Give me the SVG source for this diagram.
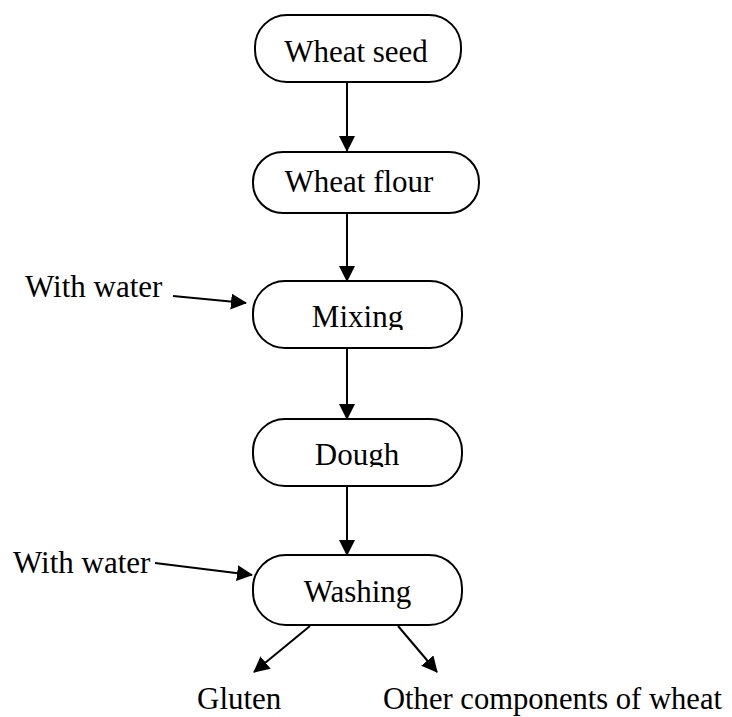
<svg xmlns="http://www.w3.org/2000/svg" width="732" height="717" viewBox="0 0 732 717">
<style>
.box{fill:#fff;stroke:#000;stroke-width:2}
.t{font-family:"Liberation Serif","Times New Roman",serif;font-size:31px;fill:#000}
.c{text-anchor:middle}
.ln{stroke:#000;stroke-width:2;fill:none;marker-end:url(#ah)}
</style>
<defs>
<marker id="ah" markerUnits="userSpaceOnUse" markerWidth="16" markerHeight="16" viewBox="0 0 16 16" refX="15" refY="8" orient="auto">
<path d="M0,0 L16,8 L0,16 Z" fill="#000"/>
</marker>
<clipPath id="cm"><rect x="250" y="280" width="220" height="50"/></clipPath>
<clipPath id="cd"><rect x="250" y="418" width="220" height="49"/></clipPath>
</defs>
<rect width="732" height="717" fill="#fff"/>
<g id="wheat-seed"><rect class="box" x="255" y="15" width="206" height="67" rx="32" ry="32"/><text class="t c" x="356" y="62">Wheat seed</text></g>
<g id="wheat-flour"><rect class="box" x="253" y="152" width="226" height="61" rx="30" ry="30"/><text class="t c" x="359" y="192">Wheat flour</text></g>
<g id="mixing"><rect class="box" x="253" y="281" width="209" height="67" rx="32" ry="32"/><text class="t c" x="357.5" y="327" clip-path="url(#cm)">Mixing</text></g>
<g id="dough"><rect class="box" x="253" y="419" width="209" height="67" rx="32" ry="32"/><text class="t c" x="357" y="465" clip-path="url(#cd)">Dough</text></g>
<g id="washing"><rect class="box" x="253" y="555" width="209" height="70" rx="33" ry="33"/><text class="t c" x="357.5" y="602">Washing</text></g>
<g id="labels">
<text class="t" x="25" y="297">With water</text>
<text class="t" x="13" y="573">With water</text>
<text class="t" x="197" y="709">Gluten</text>
<text class="t" x="383" y="709" textLength="339" lengthAdjust="spacingAndGlyphs">Other components of wheat</text>
</g>
<g id="connectors">
<line class="ln" x1="347" y1="82" x2="347" y2="151"/>
<line class="ln" x1="347" y1="213" x2="347" y2="281"/>
<line class="ln" x1="347" y1="348" x2="347" y2="419"/>
<line class="ln" x1="347" y1="486" x2="347" y2="555"/>
<line class="ln" x1="173" y1="296" x2="246" y2="303"/>
<line class="ln" x1="155" y1="563" x2="252" y2="575"/>
<line class="ln" x1="310" y1="626" x2="254" y2="672"/>
<line class="ln" x1="398" y1="626" x2="437" y2="672"/>
</g>
</svg>
